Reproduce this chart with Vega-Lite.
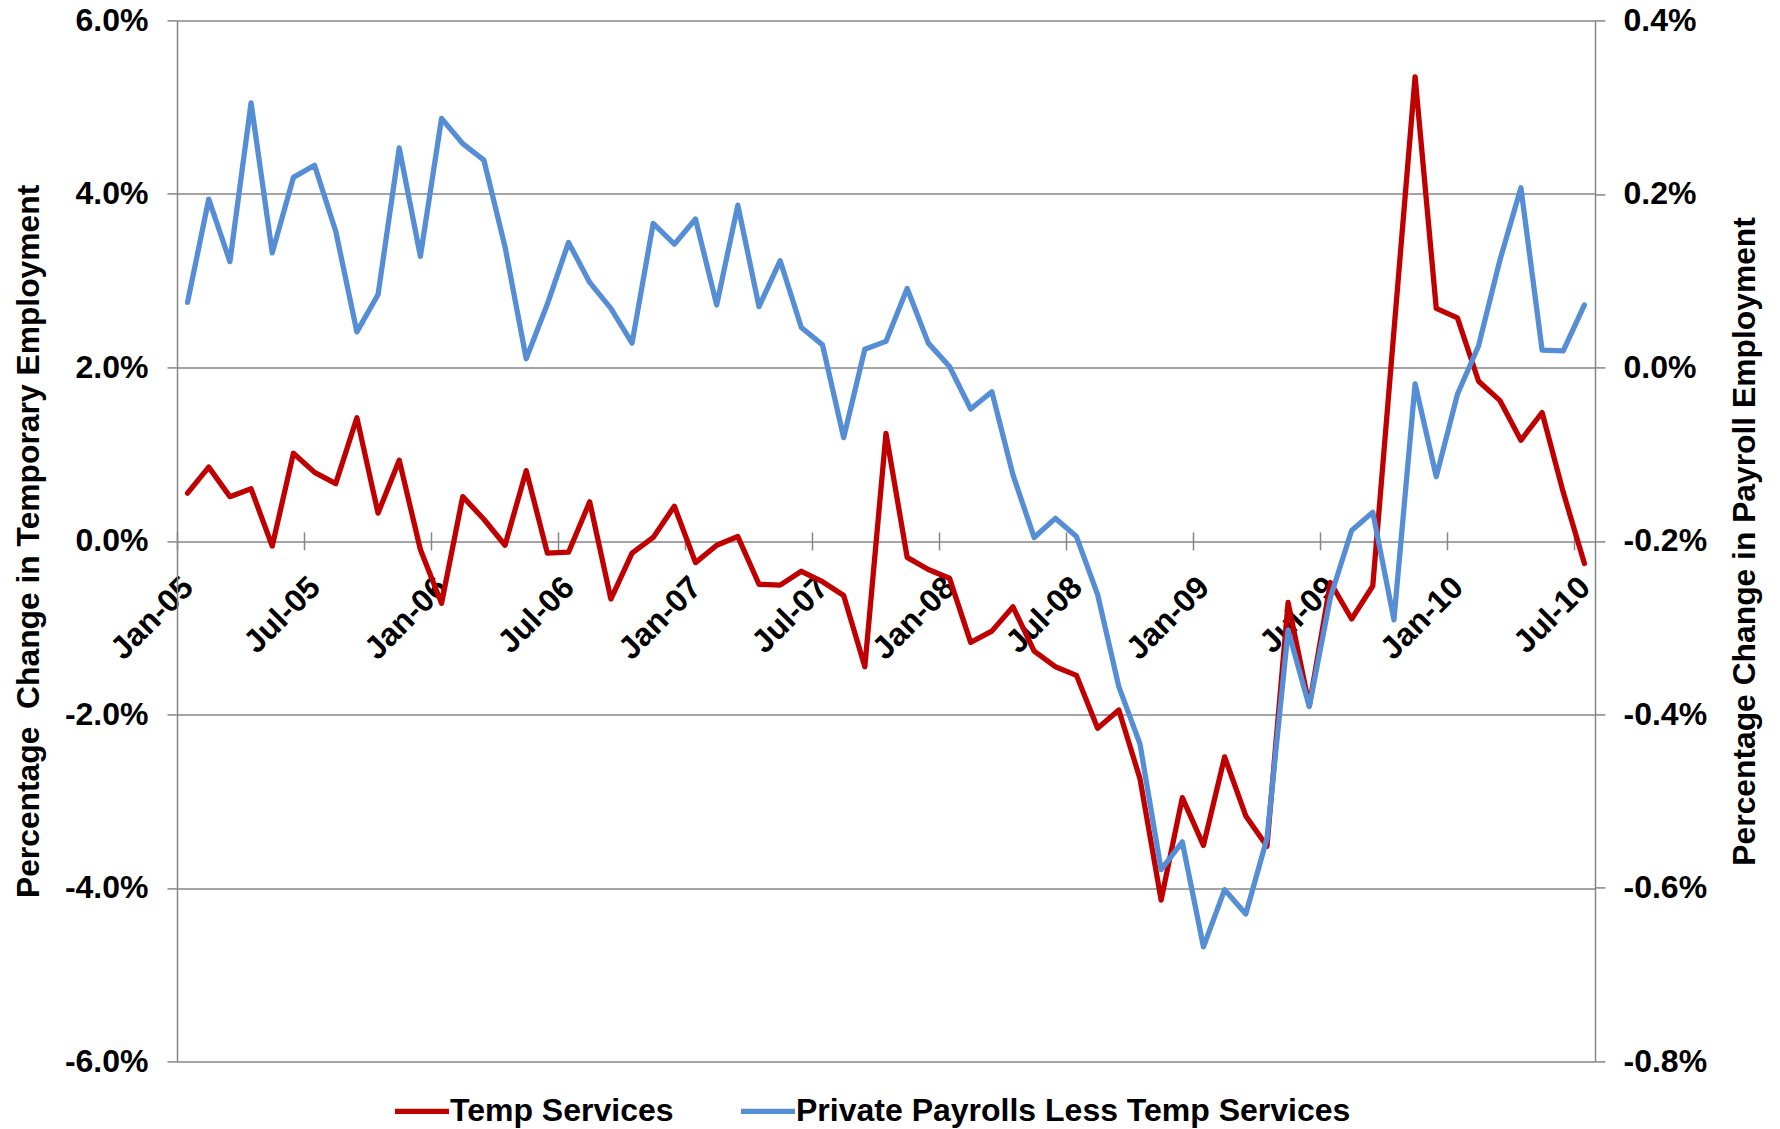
{
  "$schema": "https://vega.github.io/schema/vega-lite/v6.json",
  "width": 1418,
  "height": 1041,
  "autosize": {"type": "none"},
  "padding": {"left": 177, "top": 20.4, "right": 185, "bottom": 67.6},
  "background": "white",
  "config": {
    "font": "Liberation Sans",
    "view": {"stroke": null},
    "axis": {"labelFont": "Liberation Sans", "titleFont": "Liberation Sans", "labelColor": "black", "titleColor": "black"},
    "legend": {"labelFont": "Liberation Sans"}
  },
  "data": {
    "values": [
      {"i": 0, "month": "Jan-05", "temp": 0.55, "payroll": 0.075},
      {"i": 1, "month": "Feb-05", "temp": 0.85, "payroll": 0.194},
      {"i": 2, "month": "Mar-05", "temp": 0.51, "payroll": 0.122},
      {"i": 3, "month": "Apr-05", "temp": 0.60, "payroll": 0.305},
      {"i": 4, "month": "May-05", "temp": -0.06, "payroll": 0.132},
      {"i": 5, "month": "Jun-05", "temp": 1.01, "payroll": 0.219},
      {"i": 6, "month": "Jul-05", "temp": 0.79, "payroll": 0.233},
      {"i": 7, "month": "Aug-05", "temp": 0.66, "payroll": 0.157},
      {"i": 8, "month": "Sep-05", "temp": 1.42, "payroll": 0.041},
      {"i": 9, "month": "Oct-05", "temp": 0.32, "payroll": 0.084},
      {"i": 10, "month": "Nov-05", "temp": 0.93, "payroll": 0.253},
      {"i": 11, "month": "Dec-05", "temp": -0.10, "payroll": 0.128},
      {"i": 12, "month": "Jan-06", "temp": -0.72, "payroll": 0.287},
      {"i": 13, "month": "Feb-06", "temp": 0.51, "payroll": 0.258},
      {"i": 14, "month": "Mar-06", "temp": 0.25, "payroll": 0.239},
      {"i": 15, "month": "Apr-06", "temp": -0.05, "payroll": 0.139},
      {"i": 16, "month": "May-06", "temp": 0.81, "payroll": 0.010},
      {"i": 17, "month": "Jun-06", "temp": -0.14, "payroll": 0.073},
      {"i": 18, "month": "Jul-06", "temp": -0.13, "payroll": 0.144},
      {"i": 19, "month": "Aug-06", "temp": 0.45, "payroll": 0.098},
      {"i": 20, "month": "Sep-06", "temp": -0.67, "payroll": 0.068},
      {"i": 21, "month": "Oct-06", "temp": -0.14, "payroll": 0.028},
      {"i": 22, "month": "Nov-06", "temp": 0.04, "payroll": 0.166},
      {"i": 23, "month": "Dec-06", "temp": 0.40, "payroll": 0.142},
      {"i": 24, "month": "Jan-07", "temp": -0.25, "payroll": 0.171},
      {"i": 25, "month": "Feb-07", "temp": -0.05, "payroll": 0.072},
      {"i": 26, "month": "Mar-07", "temp": 0.05, "payroll": 0.187},
      {"i": 27, "month": "Apr-07", "temp": -0.50, "payroll": 0.070},
      {"i": 28, "month": "May-07", "temp": -0.51, "payroll": 0.123},
      {"i": 29, "month": "Jun-07", "temp": -0.35, "payroll": 0.046},
      {"i": 30, "month": "Jul-07", "temp": -0.47, "payroll": 0.026},
      {"i": 31, "month": "Aug-07", "temp": -0.63, "payroll": -0.081},
      {"i": 32, "month": "Sep-07", "temp": -1.45, "payroll": 0.021},
      {"i": 33, "month": "Oct-07", "temp": 1.24, "payroll": 0.030},
      {"i": 34, "month": "Nov-07", "temp": -0.19, "payroll": 0.091},
      {"i": 35, "month": "Dec-07", "temp": -0.33, "payroll": 0.028},
      {"i": 36, "month": "Jan-08", "temp": -0.43, "payroll": 0.001},
      {"i": 37, "month": "Feb-08", "temp": -1.17, "payroll": -0.048},
      {"i": 38, "month": "Mar-08", "temp": -1.04, "payroll": -0.028},
      {"i": 39, "month": "Apr-08", "temp": -0.76, "payroll": -0.124},
      {"i": 40, "month": "May-08", "temp": -1.27, "payroll": -0.196},
      {"i": 41, "month": "Jun-08", "temp": -1.45, "payroll": -0.174},
      {"i": 42, "month": "Jul-08", "temp": -1.55, "payroll": -0.195},
      {"i": 43, "month": "Aug-08", "temp": -2.16, "payroll": -0.262},
      {"i": 44, "month": "Sep-08", "temp": -1.95, "payroll": -0.368},
      {"i": 45, "month": "Oct-08", "temp": -2.74, "payroll": -0.434},
      {"i": 46, "month": "Nov-08", "temp": -4.14, "payroll": -0.579},
      {"i": 47, "month": "Dec-08", "temp": -2.96, "payroll": -0.547},
      {"i": 48, "month": "Jan-09", "temp": -3.51, "payroll": -0.668},
      {"i": 49, "month": "Feb-09", "temp": -2.49, "payroll": -0.602},
      {"i": 50, "month": "Mar-09", "temp": -3.17, "payroll": -0.630},
      {"i": 51, "month": "Apr-09", "temp": -3.52, "payroll": -0.543},
      {"i": 52, "month": "May-09", "temp": -0.71, "payroll": -0.303},
      {"i": 53, "month": "Jun-09", "temp": -1.90, "payroll": -0.391},
      {"i": 54, "month": "Jul-09", "temp": -0.48, "payroll": -0.265},
      {"i": 55, "month": "Aug-09", "temp": -0.90, "payroll": -0.188},
      {"i": 56, "month": "Sep-09", "temp": -0.52, "payroll": -0.167},
      {"i": 57, "month": "Oct-09", "temp": 2.42, "payroll": -0.291},
      {"i": 58, "month": "Nov-09", "temp": 5.35, "payroll": -0.019},
      {"i": 59, "month": "Dec-09", "temp": 2.68, "payroll": -0.126},
      {"i": 60, "month": "Jan-10", "temp": 2.57, "payroll": -0.031},
      {"i": 61, "month": "Feb-10", "temp": 1.84, "payroll": 0.025},
      {"i": 62, "month": "Mar-10", "temp": 1.62, "payroll": 0.123},
      {"i": 63, "month": "Apr-10", "temp": 1.16, "payroll": 0.207},
      {"i": 64, "month": "May-10", "temp": 1.48, "payroll": 0.020},
      {"i": 65, "month": "Jun-10", "temp": 0.56, "payroll": 0.019},
      {"i": 66, "month": "Jul-10", "temp": -0.26, "payroll": 0.072}
    ]
  },
  "layer": [
    {
      "mark": {"type": "line", "strokeWidth": 5.3, "strokeJoin": "round", "strokeCap": "round"},
      "encoding": {
        "x": {
          "field": "i", "type": "quantitative",
          "scale": {"domain": [-0.5, 66.5], "nice": false, "zero": false},
          "axis": {
            "orient": "bottom",
            "values": [0, 6, 12, 18, 24, 30, 36, 42, 48, 54, 60, 66],
            "labelExpr": "(datum.value % 12 == 0 ? 'Jan-' : 'Jul-') + (floor(datum.value / 12) + 5 < 10 ? '0' : '') + (floor(datum.value / 12) + 5)",
            "labelAngle": -45, "labelAlign": "right", "labelBaseline": "middle",
            "labelFontSize": 32, "labelFontWeight": "bold",
            "ticks": false, "tickSize": 0, "domain": false, "grid": false,
            "offset": -520.5, "labelPadding": 41,
            "labelOverlap": false, "labelBound": false, "labelFlush": false,
            "title": null
          }
        },
        "y": {
          "field": "temp", "type": "quantitative",
          "scale": {"domain": [-6, 6], "nice": false, "zero": false},
          "axis": {
            "orient": "left",
            "values": [-6, -4, -2, 0, 2, 4, 6],
            "labelExpr": "(datum.value < 0 ? '-' : '') + format(abs(datum.value), '.1f') + '%'",
            "grid": true, "gridColor": "#868686", "gridWidth": 1.5,
            "domainColor": "#868686", "domainWidth": 1.5,
            "tickColor": "#868686", "tickWidth": 1.5, "tickSize": 10,
            "labelPadding": 19, "labelFontSize": 32, "labelFontWeight": "bold",
            "title": "Percentage\u00a0 Change in Temporary Employment",
            "titleFontSize": 31.8, "titleFontWeight": "bold",
            "titleX": -149, "titleY": 520.5, "titleAngle": 270,
            "titleAlign": "center", "titleBaseline": "middle"
          }
        },
        "color": {
          "datum": "Temp Services", "type": "nominal",
          "scale": {"domain": ["Temp Services", "Private Payrolls Less Temp Services"], "range": ["#C00000", "#558ED5"]},
          "legend": {
            "orient": "none", "legendX": 215, "legendY": 1061, "direction": "horizontal",
            "title": null, "symbolType": "stroke", "symbolSize": 2916, "symbolStrokeWidth": 5.3,
            "labelFontSize": 32, "labelFontWeight": "bold", "labelColor": "black",
            "labelOffset": -2, "columnPadding": 56, "labelLimit": 1000
          }
        }
      }
    },
    {
      "mark": {"type": "line", "strokeWidth": 5.3, "strokeJoin": "round", "strokeCap": "round"},
      "encoding": {
        "x": {
          "field": "i", "type": "quantitative",
          "axis": {
            "orient": "bottom",
            "values": [-0.5, 5.5, 11.5, 17.5, 23.5, 29.5, 35.5, 41.5, 47.5, 53.5, 59.5, 65.5],
            "labels": false, "ticks": true, "tickSize": 18, "tickColor": "#868686", "tickWidth": 1.5,
            "domain": false, "grid": false, "offset": -529.5, "title": null
          }
        },
        "y": {
          "field": "payroll", "type": "quantitative",
          "scale": {"domain": [-0.8, 0.4], "nice": false, "zero": false},
          "axis": {
            "orient": "right",
            "values": [-0.8, -0.6, -0.4, -0.2, 0, 0.2, 0.4],
            "labelExpr": "(datum.value < -0.00001 ? '-' : '') + format(abs(datum.value), '.1f') + '%'",
            "grid": false,
            "domainColor": "#868686", "domainWidth": 1.5,
            "tickColor": "#868686", "tickWidth": 1.5, "tickSize": 10,
            "labelPadding": 18, "labelFontSize": 32, "labelFontWeight": "bold",
            "title": "Percentage Change in Payroll Employment",
            "titleFontSize": 31.8, "titleFontWeight": "bold",
            "titleX": 149, "titleY": 520.5, "titleAngle": 270,
            "titleAlign": "center", "titleBaseline": "middle"
          }
        },
        "color": {"datum": "Private Payrolls Less Temp Services", "type": "nominal"}
      }
    }
  ],
  "resolve": {"scale": {"y": "independent"}, "axis": {"x": "independent", "y": "independent"}}
}
